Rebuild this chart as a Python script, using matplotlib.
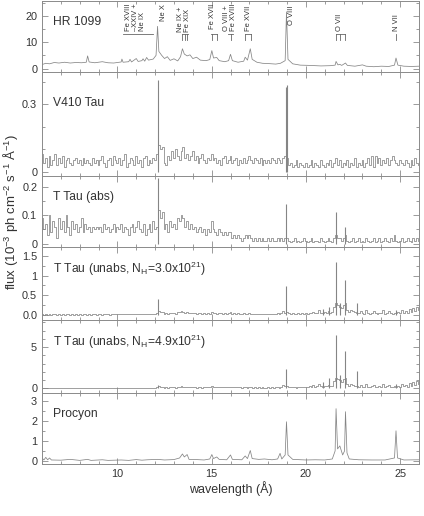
import numpy as np
import matplotlib
matplotlib.use('Agg')
import matplotlib.pyplot as plt
from matplotlib.ticker import MultipleLocator

plt.rcParams['font.family'] = ['Liberation Sans', 'DejaVu Sans']
plt.rcParams['mathtext.fontset'] = 'custom'
plt.rcParams['mathtext.rm'] = 'Liberation Sans'
plt.rcParams['mathtext.it'] = 'Liberation Sans:italic'
plt.rcParams['mathtext.bf'] = 'Liberation Sans:bold'

# ---------------------------------------------------------------------------
# Data (fluxes in 1e-3 ph cm^-2 s^-1 A^-1)
# ---------------------------------------------------------------------------

# bin centres of the binned (noisy) spectra, 6..26 A in 0.1 A steps
bin_wave = np.linspace(6.0, 26.0, 201)

# binned continuum + weak features (one row per Angstrom);
# the strong lines are listed separately below
v410_flux = [
    0.08, 0.04, 0.06, 0.02, 0.07, 0.03, 0.05, 0.08, 0.03, 0.06,
    0.04, 0.07, 0.02, 0.05, 0.06, 0.04, 0.03, 0.05, 0.06, 0.04,
    0.05, 0.03, 0.06, 0.04, 0.05, 0.04, 0.03, 0.06, 0.04, 0.05,
    0.03, 0.05, 0.07, 0.04, 0.02, 0.05, 0.06, 0.03, 0.07, 0.05,
    0.04, 0.06, 0.03, 0.05, 0.08, 0.02, 0.04, 0.06, 0.05, 0.03,
    0.07, 0.04, 0.05, 0.02, 0.06, 0.07, 0.03, 0.05, 0.04, 0.06,
    0.05, 0.08, 0.12, 0.10, 0.11, 0.04, 0.03, 0.07, 0.05, 0.09,
    0.06, 0.10, 0.07, 0.05, 0.09, 0.11, 0.06, 0.08, 0.05, 0.07,
    0.09, 0.05, 0.07, 0.04, 0.06, 0.08, 0.05, 0.04, 0.06, 0.05,
    0.08, 0.05, 0.06, 0.04, 0.05, 0.03, 0.06, 0.07, 0.04, 0.05,
    0.07, 0.04, 0.05, 0.06, 0.03, 0.05, 0.04, 0.06, 0.04, 0.05,
    0.07, 0.05, 0.04, 0.06, 0.05, 0.04, 0.06, 0.03, 0.05, 0.04,
    0.05, 0.04, 0.06, 0.05, 0.04, 0.06, 0.05, 0.04, 0.06, 0.07,
    0.06, 0.03, 0.04, 0.02, 0.03, 0.05, 0.02, 0.04, 0.03, 0.02,
    0.04, 0.02, 0.03, 0.05, 0.02, 0.04, 0.03, 0.02, 0.05, 0.03,
    0.02, 0.04, 0.03, 0.05, 0.02, 0.04, 0.06, 0.03, 0.05, 0.02,
    0.04, 0.03, 0.05, 0.02, 0.04, 0.03, 0.06, 0.02, 0.04, 0.03,
    0.05, 0.02, 0.04, 0.06, 0.03, 0.07, 0.02, 0.07, 0.04, 0.06,
    0.03, 0.05, 0.04, 0.06, 0.03, 0.05, 0.07, 0.05, 0.04, 0.03,
    0.05, 0.04, 0.03, 0.05, 0.04, 0.02, 0.05, 0.03, 0.06, 0.04,
    0.03,
]

ttau_abs_flux = [
    0.09, 0.05, 0.07, 0.03, 0.10, 0.04, 0.08, 0.06, 0.02, 0.09,
    0.05, 0.08, 0.04, 0.10, 0.06, 0.03, 0.08, 0.05, 0.07, 0.04,
    0.06, 0.09, 0.04, 0.07, 0.05, 0.06, 0.04, 0.06, 0.05, 0.06,
    0.05, 0.06, 0.04, 0.07, 0.05, 0.06, 0.04, 0.05, 0.07, 0.04,
    0.06, 0.05, 0.07, 0.04, 0.06, 0.05, 0.03, 0.06, 0.07, 0.04,
    0.06, 0.08, 0.05, 0.04, 0.07, 0.03, 0.05, 0.07, 0.04, 0.08,
    0.05, 0.06, 0.12, 0.09, 0.11, 0.05, 0.07, 0.04, 0.08, 0.06,
    0.07, 0.05, 0.09, 0.08, 0.10, 0.09, 0.06, 0.08, 0.05, 0.07,
    0.05, 0.06, 0.04, 0.05, 0.06, 0.04, 0.05, 0.03, 0.05, 0.04,
    0.08, 0.05, 0.04, 0.03, 0.05, 0.04, 0.03, 0.04, 0.03, 0.04,
    0.04, 0.02, 0.03, 0.02, 0.03, 0.02, 0.01, 0.02, 0.03, 0.02,
    0.03, 0.02, 0.01, 0.02, 0.01, 0.02, 0.01, 0.02, 0.01, 0.01,
    0.02, 0.01, 0.02, 0.01, 0.01, 0.02, 0.01, 0.02, 0.01, 0.02,
    0.02, 0.01, 0.005, 0.01, 0.02, 0.005, 0.01, 0.005, 0.01, 0.02,
    0.01, 0.005, 0.01, 0.02, 0.005, 0.01, 0.01, 0.005, 0.02, 0.01,
    0.005, 0.01, 0.02, 0.01, 0.005, 0.02, 0.03, 0.02, 0.02, 0.01,
    0.02, 0.03, 0.01, 0.005, 0.01, 0.02, 0.005, 0.01, 0.02, 0.005,
    0.01, 0.005, 0.02, 0.01, 0.005, 0.01, 0.02, 0.005, 0.01, 0.02,
    0.005, 0.01, 0.02, 0.01, 0.005, 0.02, 0.01, 0.03, 0.01, 0.005,
    0.01, 0.02, 0.005, 0.01, 0.02, 0.01, 0.005, 0.02, 0.01, 0.02,
    0.01,
]

ttau_nh30_flux = [
    0.02, 0.01, 0.02, 0.01, 0.03, 0.01, 0.02, 0.02, 0.01, 0.02,
    0.01, 0.02, 0.01, 0.02, 0.02, 0.01, 0.02, 0.01, 0.02, 0.01,
    0.02, 0.01, 0.02, 0.02, 0.01, 0.02, 0.01, 0.02, 0.02, 0.01,
    0.02, 0.02, 0.01, 0.02, 0.03, 0.02, 0.01, 0.02, 0.02, 0.03,
    0.02, 0.03, 0.02, 0.02, 0.03, 0.02, 0.03, 0.02, 0.04, 0.02,
    0.03, 0.04, 0.02, 0.03, 0.04, 0.03, 0.02, 0.04, 0.03, 0.04,
    0.04, 0.05, 0.10, 0.07, 0.08, 0.04, 0.06, 0.03, 0.06, 0.05,
    0.06, 0.04, 0.08, 0.07, 0.10, 0.09, 0.06, 0.08, 0.05, 0.06,
    0.05, 0.06, 0.04, 0.05, 0.06, 0.04, 0.06, 0.04, 0.05, 0.04,
    0.09, 0.06, 0.05, 0.04, 0.06, 0.05, 0.04, 0.05, 0.04, 0.05,
    0.07, 0.04, 0.05, 0.04, 0.05, 0.04, 0.03, 0.05, 0.04, 0.03,
    0.06, 0.04, 0.03, 0.04, 0.03, 0.04, 0.03, 0.04, 0.03, 0.03,
    0.04, 0.03, 0.04, 0.03, 0.04, 0.05, 0.03, 0.06, 0.10, 0.06,
    0.08, 0.05, 0.04, 0.05, 0.04, 0.03, 0.05, 0.04, 0.06, 0.04,
    0.05, 0.04, 0.06, 0.05, 0.09, 0.05, 0.06, 0.12, 0.06, 0.05,
    0.08, 0.06, 0.10, 0.06, 0.07, 0.20, 0.30, 0.25, 0.22, 0.18,
    0.25, 0.30, 0.12, 0.08, 0.14, 0.10, 0.08, 0.06, 0.05, 0.10,
    0.05, 0.04, 0.12, 0.05, 0.04, 0.06, 0.10, 0.05, 0.04, 0.06,
    0.05, 0.12, 0.04, 0.06, 0.10, 0.05, 0.04, 0.06, 0.05, 0.08,
    0.05, 0.14, 0.06, 0.10, 0.05, 0.16, 0.08, 0.18, 0.10, 0.20,
    0.12,
]

ttau_nh49_flux = [
    0.05, 0.03, 0.06, 0.03, 0.07, 0.04, 0.05, 0.06, 0.03, 0.05,
    0.04, 0.06, 0.03, 0.05, 0.06, 0.04, 0.05, 0.03, 0.05, 0.04,
    0.05, 0.04, 0.06, 0.05, 0.03, 0.05, 0.04, 0.06, 0.05, 0.04,
    0.05, 0.06, 0.04, 0.05, 0.07, 0.05, 0.04, 0.06, 0.05, 0.07,
    0.05, 0.07, 0.05, 0.06, 0.08, 0.05, 0.07, 0.06, 0.09, 0.05,
    0.07, 0.09, 0.06, 0.08, 0.10, 0.07, 0.06, 0.09, 0.08, 0.10,
    0.10, 0.12, 0.25, 0.18, 0.20, 0.10, 0.15, 0.09, 0.15, 0.12,
    0.15, 0.10, 0.20, 0.18, 0.26, 0.22, 0.15, 0.20, 0.13, 0.16,
    0.14, 0.16, 0.11, 0.14, 0.17, 0.11, 0.16, 0.12, 0.14, 0.12,
    0.26, 0.18, 0.15, 0.12, 0.18, 0.15, 0.12, 0.15, 0.12, 0.15,
    0.22, 0.13, 0.16, 0.12, 0.16, 0.13, 0.10, 0.16, 0.13, 0.10,
    0.20, 0.14, 0.10, 0.14, 0.10, 0.13, 0.10, 0.14, 0.10, 0.11,
    0.14, 0.11, 0.14, 0.11, 0.15, 0.18, 0.11, 0.22, 0.40, 0.25,
    0.30, 0.18, 0.15, 0.18, 0.15, 0.11, 0.18, 0.15, 0.22, 0.15,
    0.20, 0.15, 0.25, 0.20, 0.40, 0.20, 0.25, 0.55, 0.25, 0.20,
    0.35, 0.25, 0.45, 0.25, 0.30, 0.90, 1.30, 1.10, 1.00, 0.80,
    1.10, 1.30, 0.55, 0.35, 0.60, 0.45, 0.35, 0.25, 0.20, 0.45,
    0.22, 0.18, 0.55, 0.22, 0.18, 0.25, 0.45, 0.22, 0.18, 0.25,
    0.22, 0.55, 0.18, 0.25, 0.45, 0.22, 0.18, 0.28, 0.22, 0.35,
    0.22, 0.60, 0.25, 0.45, 0.22, 0.70, 0.35, 0.80, 0.45, 0.90,
    0.55,
]

# strong emission lines of the binned spectra (wavelength, peak flux)
v410_line_wave = [12.13, 18.93, 18.99]
v410_line_peak = [0.41, 0.38, 0.385]
ttau_abs_line_wave = [12.13, 18.97, 21.6, 22.1]
ttau_abs_line_peak = [0.23, 0.14, 0.11, 0.06]
ttau_line_wave = [12.13, 18.97, 20.9, 21.2, 21.6, 21.8, 22.1, 22.7, 24.78]
ttau_nh30_line_peak = [0.40, 0.73, 0.15, 0.22, 1.35, 0.30, 0.88, 0.32, 0.12]
ttau_nh49_line_peak = [0.45, 2.40, 0.80, 1.30, 6.50, 1.60, 4.50, 2.10, 0.60]

# high S/N spectra, sampled at continuum points and line peaks
hr1099_wave = [
    6.0, 6.2, 6.4, 6.65, 6.9, 7.2, 7.5, 7.8, 8.1, 8.35,
    8.42, 8.5, 8.8, 9.2, 9.5, 9.8, 10.0, 10.2, 10.24, 10.3,
    10.6, 10.67, 10.75, 11.0, 11.1, 11.3, 11.36, 11.45, 11.55, 11.65,
    11.9, 12.05, 12.13, 12.2, 12.35, 12.5, 12.65, 12.8, 13.0, 13.2,
    13.35, 13.45, 13.55, 13.7, 13.85, 14.0, 14.2, 14.4, 14.7, 14.9,
    15.01, 15.1, 15.27, 15.4, 15.7, 15.9, 16.0, 16.1, 16.4, 16.7,
    16.78, 16.9, 17.05, 17.15, 17.4, 17.7, 18.0, 18.4, 18.65, 18.9,
    18.97, 19.05, 19.3, 19.7, 20.2, 20.8, 21.3, 21.55, 21.6, 21.7,
    21.8, 21.9, 22.1, 22.2, 22.6, 23.0, 23.2, 23.6, 24.0, 24.4,
    24.7, 24.78, 24.88, 25.2, 25.6, 26.0,
]
hr1099_flux = [
    1.5, 2.0, 1.8, 2.3, 2.1, 2.4, 2.1, 2.3, 2.2, 2.4,
    4.8, 2.5, 2.2, 2.6, 2.2, 2.1, 2.3, 2.5, 3.6, 2.4,
    2.6, 3.5, 2.5, 3.8, 2.7, 3.0, 3.7, 2.8, 4.2, 3.2,
    3.6, 5.0, 16.0, 6.5, 5.0, 3.8, 4.5, 3.1, 3.7, 2.9,
    4.5, 7.5, 5.5, 4.8, 5.2, 3.8, 4.3, 3.2, 3.0, 3.4,
    6.8, 4.0, 4.2, 3.0, 2.6, 3.0, 5.4, 3.0, 2.4, 2.8,
    4.3, 3.2, 7.5, 3.5, 2.4, 2.0, 1.9, 1.7, 2.0, 3.0,
    21.5, 3.5, 1.8, 1.3, 1.2, 1.0, 1.1, 1.3, 2.7, 1.4,
    1.6, 1.2, 2.1, 1.2, 0.9, 1.4, 0.9, 0.7, 0.9, 0.8,
    1.3, 4.0, 1.3, 0.9, 0.8, 0.9,
]

procyon_wave = [
    6.0, 6.1, 6.2, 6.3, 6.4, 6.5, 7.0, 7.5, 8.0, 8.42,
    8.6, 9.2, 9.5, 10.2, 10.6, 11.0, 11.3, 11.6, 12.13, 12.5,
    13.0, 13.3, 13.45, 13.55, 13.7, 13.8, 14.2, 14.6, 14.9, 15.01,
    15.1, 15.27, 15.4, 15.8, 16.0, 16.1, 16.6, 16.78, 16.9, 17.05,
    17.15, 17.5, 17.8, 18.2, 18.5, 18.63, 18.72, 18.9, 18.97, 19.05,
    19.3, 20.0, 20.5, 21.0, 21.4, 21.55, 21.6, 21.68, 21.8, 21.95,
    22.05, 22.1, 22.18, 22.3, 22.8, 23.5, 24.2, 24.7, 24.78, 24.86,
    25.2, 26.0,
]
procyon_flux = [
    0.15, 0.05, 0.18, 0.06, 0.15, 0.05, 0.04, 0.08, 0.03, 0.08,
    0.03, 0.06, 0.03, 0.05, 0.03, 0.07, 0.04, 0.06, 0.08, 0.05,
    0.07, 0.15, 0.35, 0.20, 0.32, 0.08, 0.07, 0.05, 0.10, 0.32,
    0.12, 0.20, 0.08, 0.06, 0.30, 0.08, 0.06, 0.25, 0.12, 0.52,
    0.12, 0.08, 0.10, 0.06, 0.10, 0.38, 0.10, 0.30, 1.95, 0.30,
    0.08, 0.05, 0.06, 0.05, 0.10, 0.50, 2.60, 0.60, 0.75, 0.30,
    0.50, 2.45, 0.40, 0.10, 0.06, 0.05, 0.05, 0.15, 1.50, 0.15,
    0.05, 0.06,
]

panel_names = [
    'HR 1099',
    'V410 Tau',
    'T Tau (abs)',
    'T Tau (unabs, N$_{\\rm H}$=3.0x10$^{21}$)',
    'T Tau (unabs, N$_{\\rm H}$=4.9x10$^{21}$)',
    'Procyon',
]

# line identifications on the HR 1099 panel
line_id_text = ['Fe XVIII\n\u2013XXIV +\nNe IX', 'Ne X', 'Ne IX +\nFe XIX', 'Fe XVII',
                'O VIII +\nFe XVIII', 'Fe XVII', 'O VIII', 'O VII', 'N VII']
line_id_wave = [10.95, 12.42, 13.55, 15.07, 15.97, 16.93, 19.26, 21.8, 24.83]
line_id_base = [0.58, 0.72, 0.56, 0.60, 0.58, 0.58, 0.66, 0.58, 0.58]
# (bar start, bar end, line positions) of the little brackets under the ids
bracket_groups = [
    (10.3, 11.9, []),
    (13.42, 13.72, [13.45, 13.58, 13.7]),
    (14.98, 15.28, [15.01, 15.26]),
    (15.88, 16.12, [16.0]),
    (16.75, 17.1, [16.78, 17.1]),
    (21.6, 22.1, [21.6, 21.8, 22.1]),
    (24.78, 24.78, [24.78]),
]

# ---------------------------------------------------------------------------
# Layout
# ---------------------------------------------------------------------------
W, H = 424, 516
LEFT, RIGHT = 42, 419
edges = [1, 72, 176, 247, 320, 393, 464]   # panel borders in pixels from top

ylims = [(-1.3, 25.6), (-0.02, 0.445), (-0.012, 0.238), (-0.12, 1.72), (-0.55, 8.3), (-0.15, 3.38)]
yticks = [[0, 10, 20], [0, 0.3], [0, 0.1, 0.2], [0, 0.5, 1, 1.5], [0, 5], [0, 1, 2, 3]]
ytick_labels = [['0', '10', '20'], ['0', '0.3'], ['0', '0.1', '0.2'],
                ['0.0', '0.5', '1', '1.5'], ['0', '5'], ['0', '1', '2', '3']]
yminor = [5, 0.1, 0.05, 0.25, 1, 0.5]

LINE_C = '#858585'
AX_C = '#8a8a8a'
TXT_C = '#333333'

fig = plt.figure(figsize=(W / 100, H / 100), dpi=100)

spectra = [
    (hr1099_wave, hr1099_flux, 'default', None, None),
    (bin_wave, v410_flux, 'steps-mid', v410_line_wave, v410_line_peak),
    (bin_wave, ttau_abs_flux, 'steps-mid', ttau_abs_line_wave, ttau_abs_line_peak),
    (bin_wave, ttau_nh30_flux, 'steps-mid', ttau_line_wave, ttau_nh30_line_peak),
    (bin_wave, ttau_nh49_flux, 'steps-mid', ttau_line_wave, ttau_nh49_line_peak),
    (procyon_wave, procyon_flux, 'default', None, None),
]

axes = []
for i, (wave, flux, ds, lw_, lp_) in enumerate(spectra):
    top, bot = edges[i], edges[i + 1]
    ax = fig.add_axes([LEFT / W, 1 - bot / H, (RIGHT - LEFT) / W, (bot - top) / H])
    ax.plot(wave, flux, color=LINE_C, lw=0.55, drawstyle=ds)
    if lw_ is not None:
        ax.vlines(lw_, 0, lp_, color=LINE_C, lw=0.8)
    ax.set_xlim(6, 26)
    ax.set_ylim(*ylims[i])
    ax.set_yticks(yticks[i])
    ax.set_yticklabels(ytick_labels[i])
    ax.yaxis.set_minor_locator(MultipleLocator(yminor[i]))
    ax.xaxis.set_major_locator(MultipleLocator(5))
    ax.xaxis.set_minor_locator(MultipleLocator(1))
    ax.tick_params(which='both', direction='in', top=True, right=True,
                   colors=AX_C, labelcolor=TXT_C, labelsize=7.8, width=0.6)
    ax.tick_params(which='major', length=4)
    ax.tick_params(which='minor', length=2)
    for s in ax.spines.values():
        s.set_color(AX_C)
        s.set_linewidth(0.7)
    if i < len(spectra) - 1:
        ax.tick_params(labelbottom=False)
    ax.text(0.03, 0.70, panel_names[i], transform=ax.transAxes,
            ha='left', va='center', fontsize=8.7, color=TXT_C)
    axes.append(ax)

# line ids on the top panel
ax0 = axes[0]
trans = ax0.get_xaxis_transform()
for txt, wl, yb in zip(line_id_text, line_id_wave, line_id_base):
    ax0.text(wl, yb, txt, transform=trans, rotation=90, ha='center', va='bottom',
             fontsize=5.4, color=TXT_C, linespacing=0.95, multialignment='left')
for lo, hi, stems in bracket_groups:
    bar_y = 0.53 if stems else 0.54
    if hi > lo:
        ax0.plot([lo, hi], [bar_y, bar_y], transform=trans, color='#666666', lw=0.6)
    for wl in stems:
        ax0.plot([wl, wl], [bar_y, 0.45], transform=trans, color='#666666', lw=0.6)

axes[-1].set_xlabel('wavelength (\u00c5)', fontsize=9, color=TXT_C, labelpad=1.5)
fig.text(11 / W, 1 - 212 / H, 'flux (10$^{-3}$ ph cm$^{-2}$ s$^{-1}$ \u00c5$^{-1}$)',
         rotation=90, ha='center', va='center', fontsize=9.5, color=TXT_C)

fig.savefig('out.png', dpi=100)
